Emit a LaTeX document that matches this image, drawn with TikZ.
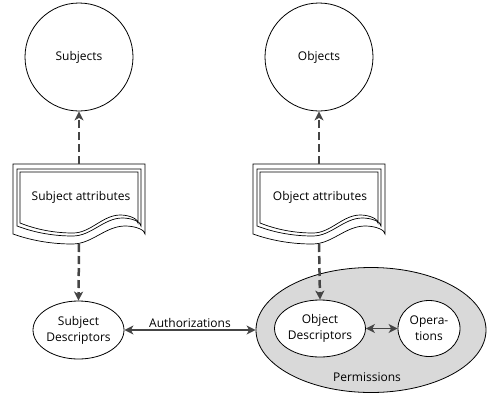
\documentclass[tikz,border=0pt]{standalone}
\usepackage{fontspec}
\setmainfont{Open Sans}
\usetikzlibrary{shapes.geometric,arrows.meta}
\definecolor{conn}{HTML}{454545}
\definecolor{permfill}{HTML}{D9D9D9}
% #1=L #2=T #3=R #4=B
\newcommand\docshape[4]{%
  \draw[docline] (#1,#2) -- (#3,#2) -- (#3,#4)
    .. controls (#3,{#4-4}) and ({#1+0.93*(#3-#1)},{#4-8}) .. ({#1+0.85*(#3-#1)},{#4-8})
    .. controls ({#1+0.7*(#3-#1)},{#4-8}) and ({#1+0.6*(#3-#1)},{#4+10}) .. ({#1+0.45*(#3-#1)},{#4+10})
    .. controls ({#1+0.3*(#3-#1)},{#4+10}) and ({#1+0.15*(#3-#1)},{#4+7}) .. (#1,#4)
    -- cycle;}
\begin{document}
\begin{tikzpicture}[x=1pt,y=-1pt,
  every node/.style={font=\fontsize{12}{16}\selectfont, text=black},
  docline/.style={draw=black, line width=0.7pt, fill=white},
  circ/.style={circle, draw=black, line width=0.8pt, minimum size=108pt, inner sep=0pt},
  ell/.style={ellipse, draw=black, line width=0.8pt, fill=white, inner sep=0pt, align=center},
  dasharrow/.style={draw=conn, line width=2.5pt, dash pattern=on 8pt off 4pt, -{Stealth[length=9pt,width=9pt,inset=2.5pt]}},
  solidarrow/.style={draw=conn, line width=1.5pt, {Stealth[length=9pt,width=9pt,inset=2.5pt]}-{Stealth[length=9pt,width=9pt,inset=2.5pt]}}
]
\useasboundingbox (0,0) rectangle (487,394);
% top circles
\node[circ] (subj) at (79,57) {Subjects};
\node[circ] (obj) at (319,57) {Objects};
% document shapes
\docshape{13}{164}{145}{234}
\docshape{17}{169}{141}{226}
\docshape{20}{172}{138}{223}
\docshape{253}{164}{385}{234}
\docshape{257}{169}{381}{226}
\docshape{260}{172}{378}{223}
\node (sattr) at (81,197) {Subject attributes};
\node (oattr) at (320,197) {Object attributes};
\coordinate (stop) at (79,164);
\coordinate (sbot) at (79,244);
\coordinate (otop) at (319,164);
\coordinate (obot) at (319,244);
% bottom
\node[ell, minimum width=91pt, minimum height=58pt] (sdesc) at (78.5,330) {Subject\\Descriptors};
\node[ellipse, draw=black, line width=0.8pt, fill=permfill, minimum width=230pt, minimum height=125pt, inner sep=0pt] (perm) at (371,330) {};
\node[ell, minimum width=90pt, minimum height=57pt] (odesc) at (320,328.5) {Object\\Descriptors};
\node[ell, minimum width=62pt, minimum height=56pt] (ops) at (429,328.5) {Opera-\\tions};
\node (permlbl) at (367,377) {Permissions};
% connectors
\draw[dasharrow] (stop) -- (subj.south);
\draw[dasharrow] (sbot) -- (sdesc.north);
\draw[dasharrow] (otop) -- (obj.south);
\draw[dasharrow] (obot) -- (odesc.north);
\draw[solidarrow] (sdesc.east) -- node[above, inner sep=2pt] (authlbl) {Authorizations} (perm.west);
\draw[solidarrow] (odesc.east) -- (ops.west);
\end{tikzpicture}
\end{document}
